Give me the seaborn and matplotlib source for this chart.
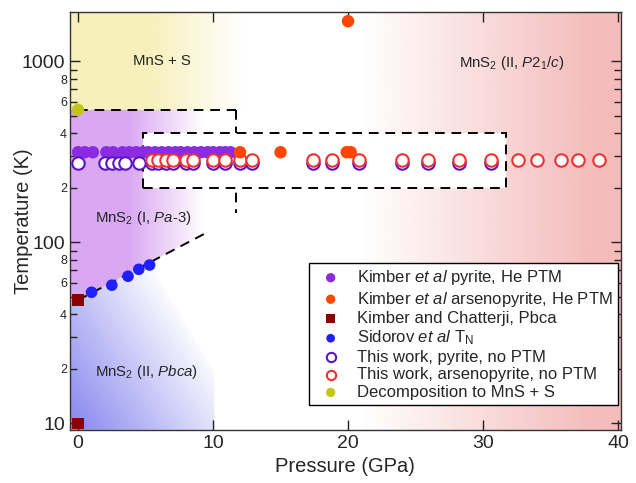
import numpy as np
import matplotlib
matplotlib.use("Agg")
import matplotlib.pyplot as plt
import seaborn as sns
from matplotlib.patches import Polygon
from matplotlib.ticker import FixedLocator, LogLocator, FuncFormatter

# ---- data: pressure (GPa), temperature (K) ----
kimber_pyr_p = [0.0, 0.5, 1.1, 2.1, 2.6, 3.3, 3.8, 4.3, 4.8, 5.2, 5.7, 6.2,
                6.7, 7.2, 7.6, 8.1, 8.6, 9.1, 9.6, 10.0, 10.5, 10.9, 11.3]
kimber_pyr_t = [315, 315, 315, 315, 315, 315, 315, 315, 315, 315, 315, 315,
                315, 315, 315, 315, 315, 315, 315, 315, 315, 315, 315]

kimber_ars_p = [12.0, 15.0, 19.9, 20.2, 20.0]
kimber_ars_t = [315, 315, 315, 315, 1670]

chatterji_p = [0.0, 0.0]
chatterji_t = [48, 10]

sidorov_p = [1.0, 2.5, 3.7, 4.5, 5.3]
sidorov_t = [53, 58, 65, 71, 75]

this_pyr_p = [0.0, 2.0, 2.55, 3.05, 3.5, 4.5, 5.45, 5.9, 6.5, 7.0, 8.0, 8.5,
              10.0, 10.9, 12.0, 12.9, 17.4, 18.8, 20.8, 24.0, 25.9, 28.2, 30.6]
this_pyr_t = [273, 273, 273, 273, 273, 273, 273, 273, 273, 273, 273, 273,
              273, 273, 273, 273, 273, 273, 273, 273, 273, 273, 273]

this_ars_p = [5.45, 5.9, 6.5, 7.0, 8.0, 8.5, 10.0, 10.9, 12.0, 12.9, 17.4,
              18.8, 20.8, 24.0, 25.9, 28.2, 30.6, 32.6, 34.0, 35.8, 37.0, 38.6]
this_ars_t = [287, 287, 287, 287, 287, 287, 287, 287, 287, 287, 287,
              287, 287, 287, 287, 287, 287, 287, 287, 287, 287, 287]

decomp_p = [0.0]
decomp_t = [540]

# phase boundaries (dashed)
decomp_line_p = [0.0, 11.7]
decomp_line_t = [540, 540]
vert_line_p = [11.7, 11.7]
vert_line_t = [540, 145]
slope_line_p = [0.0, 9.5]
slope_line_t = [48, 113]
box_p = [4.8, 31.7, 31.7, 4.8]
box_t = [200, 200, 400, 400]

XMIN, XMAX = -0.6, 40.2
YMIN, YMAX = 9.2, 1875

sns.set_theme(style="ticks")
plt.rcParams["font.family"] = ["Liberation Sans", "DejaVu Sans"]
plt.rcParams["mathtext.fontset"] = "custom"
plt.rcParams["mathtext.rm"] = "Liberation Sans"
plt.rcParams["mathtext.it"] = "Liberation Sans:italic"

fig = plt.figure(figsize=(6.36, 4.83), dpi=100)
ax = fig.add_axes([0.110, 0.110, 0.866, 0.865])
ax.set_yscale("log")
ax.set_xlim(XMIN, XMAX)
ax.set_ylim(YMIN, YMAX)
ax.set_autoscale_on(False)


def t_on_slope(p):
    # log-linear along the sloped boundary
    lt = np.log10(slope_line_t[0]) + (np.log10(slope_line_t[1]) - np.log10(slope_line_t[0])) * \
        (p - slope_line_p[0]) / (slope_line_p[1] - slope_line_p[0])
    return 10 ** lt


# background grid in data coordinates
nx, ny = 500, 400
gp = XMIN + (XMAX - XMIN) * (np.arange(nx) + 0.5) / nx
glt = np.log10(YMIN) + (np.log10(YMAX) - np.log10(YMIN)) * (np.arange(ny) + 0.5) / ny
PP, LL = np.meshgrid(gp, glt)


def shade(color, alpha, poly_p, poly_t):
    rgba = np.zeros((ny, nx, 4))
    rgba[..., :3] = matplotlib.colors.to_rgb(color)
    rgba[..., 3] = np.clip(alpha, 0, 1)
    im = ax.imshow(rgba, extent=(0, 1, 0, 1), transform=ax.transAxes, origin="lower",
                   aspect="auto", interpolation="bilinear", zorder=0)
    patch = Polygon(np.column_stack([poly_p, poly_t]), closed=True, transform=ax.transData)
    im.set_clip_path(patch)


# MnS + S (yellow)
shade("#f7f0bc", (12.3 - PP) / 7.0,
      [XMIN, 12.5, 12.5, XMIN], [540, 540, YMAX, YMAX])
# MnS2 I (purple)
shade("#daa8f2", (9.3 - PP) / 5.5,
      [XMIN, 12, 12, 9.5, 0, XMIN], [540, 540, 113, 113, 48, t_on_slope(XMIN)])
# MnS2 II Pbca (blue)
u = PP / 10.1
v = (LL - np.log10(YMIN)) / (np.log10(48) - np.log10(YMIN))
shade("#8a8af0", 1 - 0.75 * u - 0.45 * v,
      [XMIN, XMIN, 0, 5.3, 10.1, 10.1],
      [YMIN, t_on_slope(XMIN), 48, t_on_slope(5.3), 19, YMIN])
# MnS2 II P21/c (pink)
shade("#f5bcbc", (PP - 21) / 17.0,
      [21, XMAX, XMAX, 21], [YMIN, YMIN, YMAX, YMAX])

dash = (0, (5, 3.5))
ax.fill(box_p, box_t, facecolor="white", edgecolor="black", lw=1.4,
        linestyle=dash, zorder=1.5)
ax.plot(decomp_line_p, decomp_line_t, color="black", lw=1.4, ls=dash, zorder=1.4)
ax.plot(vert_line_p, vert_line_t, color="black", lw=1.4, ls=dash, zorder=1.4)
ax.plot(slope_line_p, slope_line_t, color="black", lw=1.4, ls=dash, zorder=1.4)

ms = 80
sns.scatterplot(x=kimber_pyr_p, y=kimber_pyr_t, ax=ax, color="#8a2be2", s=ms,
                edgecolor="none", zorder=3, label=r"Kimber $\mathit{et\ al}$ pyrite, He PTM")
sns.scatterplot(x=kimber_ars_p, y=kimber_ars_t, ax=ax, color="#ff4500", s=ms,
                edgecolor="none", zorder=4, label=r"Kimber $\mathit{et\ al}$ arsenopyrite, He PTM")
sns.scatterplot(x=chatterji_p, y=chatterji_t, ax=ax, color="#8b0000", marker="s", s=70,
                edgecolor="none", zorder=4, label="Kimber and Chatterji, Pbca")
sns.scatterplot(x=sidorov_p, y=sidorov_t, ax=ax, color="#2020ff", s=70,
                edgecolor="none", zorder=4, label=r"Sidorov $\mathit{et\ al}$ T$_\mathrm{N}$")
sns.scatterplot(x=this_pyr_p, y=this_pyr_t, ax=ax, facecolor="white", edgecolor="#5a14c8",
                linewidth=1.5, s=ms, zorder=3.2, label="This work, pyrite, no PTM")
sns.scatterplot(x=this_ars_p, y=this_ars_t, ax=ax, facecolor="white", edgecolor="#f23030",
                linewidth=1.5, s=ms, zorder=3.4, label="This work, arsenopyrite, no PTM")
sns.scatterplot(x=decomp_p, y=decomp_t, ax=ax, color="#c4c41c", s=ms,
                edgecolor="none", zorder=4, label="Decomposition to MnS + S")

# region labels
ax.text(6.2, 1000, "MnS + S", ha="center", va="center", fontsize=10.8, zorder=5)
ax.text(32.1, 985, r"MnS$_2$ (II, $\mathit{P2_1/c}$)", ha="center", va="center",
        fontsize=10.8, zorder=5)
ax.text(4.85, 137, r"MnS$_2$ (I, $\mathit{Pa}$-3)", ha="center", va="center",
        fontsize=10.8, zorder=5)
ax.text(5.05, 19.2, r"MnS$_2$ (II, $\mathit{Pbca}$)", ha="center", va="center",
        fontsize=10.8, zorder=5)

# axes & ticks
ax.xaxis.set_major_locator(FixedLocator([0, 10, 20, 30, 40]))
ax.yaxis.set_major_locator(FixedLocator([10, 100, 1000]))
ax.yaxis.set_major_formatter(FuncFormatter(lambda v, pos: f"{v:g}"))
ax.yaxis.set_minor_locator(LogLocator(base=10, subs=np.arange(2, 10)))


def minor_fmt(v, pos):
    lead = int(round(v / 10 ** np.floor(np.log10(v))))
    return str(lead) if lead in (2, 4, 6, 8) else ""


ax.yaxis.set_minor_formatter(FuncFormatter(minor_fmt))
ax.tick_params(which="both", direction="in", top=True, right=True, color="#222222")
ax.tick_params(which="major", length=7, width=1, labelsize=14)
ax.tick_params(which="minor", length=5, width=1, labelsize=9, pad=2)
for sp in ax.spines.values():
    sp.set_color("#333333")
    sp.set_linewidth(1)

ax.set_xlabel("Pressure (GPa)", fontsize=14.5, labelpad=4)
ax.set_ylabel("Temperature (K)", fontsize=14.5)
ax.yaxis.set_label_coords(-0.068, 0.5)

leg = ax.legend(loc="lower right", bbox_to_anchor=(0.995, 0.06), fontsize=12,
                frameon=True, fancybox=False, edgecolor="black", framealpha=1,
                markerscale=0.75, handlelength=2.0, handletextpad=0.6,
                labelspacing=0.15, borderpad=0.3, borderaxespad=0)
leg.get_frame().set_linewidth(1)
leg.set_zorder(10)

fig.savefig("out.png", dpi=100)
